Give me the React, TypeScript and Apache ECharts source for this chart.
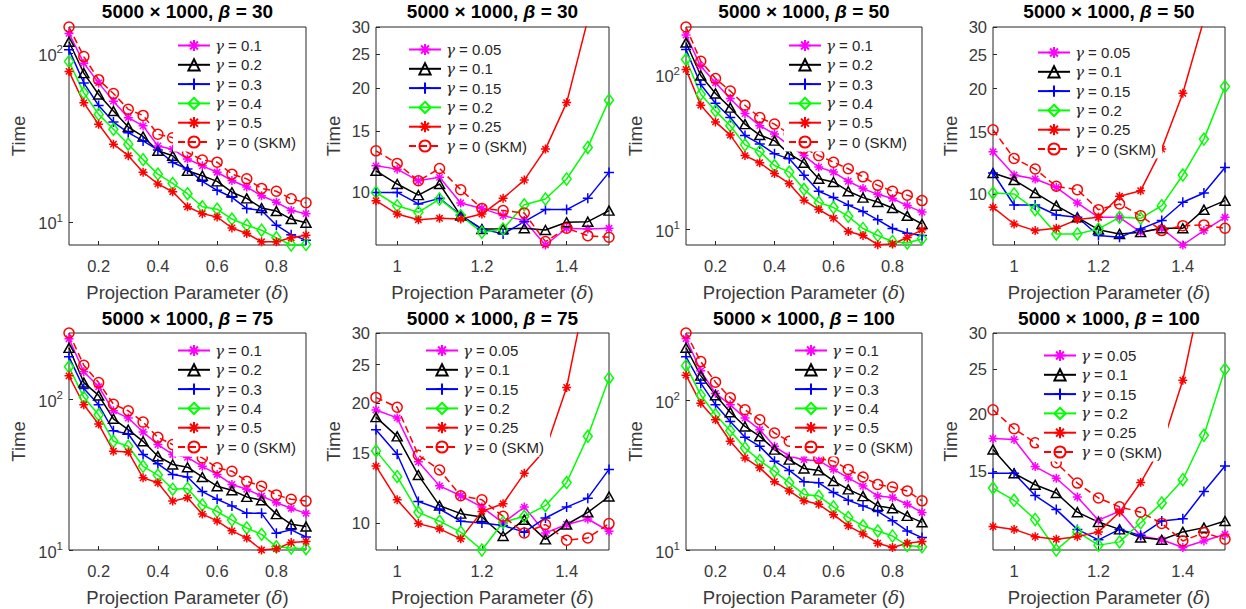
import React, { useEffect, useRef } from 'react';
import * as echarts from 'echarts';

// ---------- categories ----------
const X_LOW = [0.1, 0.15, 0.2, 0.25, 0.3, 0.35, 0.4, 0.45, 0.5, 0.55, 0.6, 0.65, 0.7, 0.75, 0.8, 0.85, 0.9];
const X_HIGH = [0.95, 1.0, 1.05, 1.1, 1.15, 1.2, 1.25, 1.3, 1.35, 1.4, 1.45, 1.5];
const X_TICKS_LOW = [0.2, 0.4, 0.6, 0.8];
const X_TICKS_HIGH = [1, 1.2, 1.4];
const Y_TICKS_LOW = [10, 100];
const Y_TICKS_HIGH = [10, 15, 20, 25, 30];
const LABELS_LOW = ['γ = 0.1', 'γ = 0.2', 'γ = 0.3', 'γ = 0.4', 'γ = 0.5', 'γ = 0 (SKM)'];
const LABELS_HIGH = ['γ = 0.05', 'γ = 0.1', 'γ = 0.15', 'γ = 0.2', 'γ = 0.25', 'γ = 0 (SKM)'];
const BETAS = [30, 30, 50, 50, 75, 75, 100, 100];
const Y_MIN = [7.3, 7.05, 7.9, 7.15, 10, 8.55, 10, 10.1];
const Y_MAX = [143, 30, 203, 30, 275, 30, 281, 30];

// ---------- beta = 30, delta 0.1..0.9 ----------
const b30L_a = [131, 87.3, 66.7, 52.0, 41.5, 37.1, 28.2, 27.0, 23.6, 21.5, 19.7, 17.6, 16.1, 14.3, 13.1, 11.7, 11.2];
const b30L_b = [117, 76.2, 56.9, 45.4, 36.5, 32.1, 26.4, 24.7, 20.1, 18.8, 17.4, 15.0, 13.8, 12.1, 11.6, 10.4, 9.9];
const b30L_c = [105, 66.7, 49.0, 39.1, 33.8, 30.2, 26.7, 22.5, 20.6, 17.4, 15.4, 14.0, 12.0, 11.7, 9.56, 8.41, 7.8];
const b30L_d = [89.3, 58.2, 43.4, 35.4, 28.9, 23.4, 19.2, 16.9, 14.7, 12.3, 11.9, 10.4, 9.56, 8.93, 8.05, 7.3, 7.35];
const b30L_e = [78.0, 50.8, 37.9, 28.9, 24.7, 19.7, 16.8, 15.1, 12.3, 11.2, 10.7, 9.22, 8.54, 7.63, 7.63, 8.05, 8.35];
const b30L_s = [143, 95.5, 69.7, 57.7, 46.5, 42.8, 33.1, 31.6, 25.8, 23.3, 22.6, 19.2, 18.0, 15.8, 15.2, 13.7, 13.0];

// ---------- beta = 30, delta 0.95..1.5 ----------
const b30H_a = [11.93, 11.67, 10.8, 11.05, 9.32, 8.99, 8.57, 8.29, 7.05, 7.88, 7.84, 7.88];
const b30H_b = [11.54, 10.57, 9.82, 10.57, 8.57, 7.84, 7.84, 7.88, 7.79, 8.2, 8.23, 8.86];
const b30H_c = [10.0, 10.0, 9.26, 9.61, 8.6, 7.84, 7.59, 8.23, 8.92, 8.92, 9.61, 11.42];
const b30H_d = [10.0, 9.15, 8.76, 9.57, 8.57, 7.67, 7.84, 9.21, 9.57, 10.93, 13.48, 18.45];
const b30H_e = [9.46, 8.66, 8.34, 8.42, 8.38, 8.66, 9.61, 10.85, 13.33, 18.16, 31.5, 52];
const b30H_s = [13.18, 12.12, 10.8, 11.72, 10.18, 8.99, 8.86, 8.72, 7.21, 7.88, 7.5, 7.42];

// ---------- beta = 50 ----------
const b50L_a = [180, 113, 88.5, 69.9, 55.9, 46.7, 41.2, 34.7, 29.9, 25.2, 23.4, 20.4, 18.3, 16.8, 15.8, 14.2, 12.9];
const b50L_b = [161, 98.6, 75.5, 61.1, 47.8, 40.6, 37.4, 30.7, 26.9, 21.2, 20.2, 17.6, 16.0, 15.0, 13.7, 12.2, 10.8];
const b50L_c = [145, 86.3, 65.2, 52.7, 40.3, 35.6, 30.7, 28.5, 22.3, 17.6, 16.0, 14.3, 13.0, 11.5, 10.1, 9.42, 9.1];
const b50L_d = [125, 74.5, 58.2, 46.7, 35.1, 31.8, 25.8, 23.4, 18.1, 14.9, 13.8, 12.1, 10.1, 9.1, 8.33, 8.13, 8.67];
const b50L_e = [108, 63.3, 49.4, 40.6, 29.9, 26.9, 22.9, 19.7, 15.4, 13.4, 11.8, 9.66, 9.1, 7.94, 8.02, 8.84, 9.9];
const b50L_s = [203, 122, 94.2, 78.2, 63.3, 52.7, 47.8, 41.2, 33.4, 29.9, 27.1, 24.6, 21.8, 19.2, 17.6, 16.6, 15.3];

const b50H_a = [13.2, 11.33, 11.04, 10.45, 9.43, 8.58, 8.58, 7.78, 7.98, 7.15, 7.86, 8.58];
const b50H_b = [11.48, 10.96, 10.07, 9.26, 8.58, 7.91, 7.69, 7.78, 7.98, 7.98, 9.02, 9.57];
const b50H_c = [11.48, 9.3, 9.3, 8.71, 8.58, 7.61, 7.52, 7.95, 8.4, 9.47, 10.07, 11.91];
const b50H_d = [10.07, 10.0, 9.02, 7.69, 7.69, 7.95, 8.58, 8.52, 9.26, 11.33, 14.35, 20.28];
const b50H_e = [9.16, 8.21, 7.86, 7.98, 8.45, 8.58, 9.85, 10.22, 13.44, 19.4, 31.5, 52];
const b50H_s = [15.26, 12.64, 11.79, 10.52, 10.29, 9.02, 9.37, 8.67, 7.86, 8.12, 8.16, 7.98];

// ---------- beta = 75 ----------
const b75L_a = [252, 152, 121, 83.8, 75.0, 60.6, 50.0, 43.0, 41.2, 35.9, 31.7, 27.2, 25.3, 22.8, 20.6, 18.9, 17.5];
const b75L_b = [219, 129, 106, 74.2, 62.8, 52.6, 41.9, 36.9, 35.4, 30.5, 26.5, 24.9, 22.5, 21.4, 17.3, 14.8, 14.3];
const b75L_c = [191, 118, 91.9, 61.8, 58.8, 43.0, 37.3, 31.7, 30.5, 24.4, 21.7, 19.6, 17.5, 17.5, 12.9, 13.6, 12.2];
const b75L_d = [164, 103, 78.8, 52.6, 48.8, 35.9, 31.4, 25.3, 25.6, 19.9, 18.0, 15.8, 14.0, 12.7, 10.5, 10.3, 10.2];
const b75L_e = [143, 91.9, 68.4, 45.2, 44.7, 30.1, 27.9, 21.1, 22.2, 17.3, 15.6, 13.4, 12.0, 10.0, 10.2, 11.2, 11.4];
const b75L_s = [275, 168, 129, 92.7, 83.8, 70.5, 55.9, 50.0, 45.2, 40.8, 35.1, 33.3, 28.6, 26.5, 23.2, 21.7, 21.1];

const b75H_a = [19.22, 18.36, 14.24, 12.39, 11.7, 10.96, 10.0, 10.96, 9.44, 9.91, 10.23, 9.53];
const b75H_b = [18.44, 16.5, 13.19, 11.05, 10.55, 10.35, 9.27, 10.19, 9.09, 9.91, 10.63, 11.65];
const b75H_c = [17.14, 14.88, 11.32, 10.84, 10.1, 10.0, 9.85, 9.48, 10.29, 10.96, 11.54, 13.63];
const b75H_d = [15.17, 13.07, 10.63, 10.1, 9.48, 8.55, 10.04, 10.39, 11.05, 12.63, 16.5, 23.1];
const b75H_e = [13.89, 11.43, 9.96, 9.66, 9.12, 10.69, 11.17, 13.32, 15.29, 21.89, 40, 62];
const b75H_s = [20.67, 19.52, 14.8, 13.58, 11.7, 11.43, 10.39, 9.44, 9.91, 9.05, 9.17, 9.96];

// ---------- beta = 100 ----------
const b100L_a = [258, 157, 111, 93.1, 76.0, 63.5, 49.2, 42.3, 40.1, 39.5, 34.5, 30.3, 26.7, 22.9, 22.4, 20.2, 17.8];
const b100L_b = [224, 146, 108, 83.2, 66.8, 57.4, 46.8, 40.1, 35.0, 34.0, 28.9, 25.4, 22.9, 19.7, 19.0, 16.9, 15.3];
const b100L_c = [195, 130, 93.1, 72.1, 56.5, 49.2, 39.2, 34.0, 28.6, 28.1, 24.2, 21.5, 19.7, 18.1, 15.7, 13.4, 12.1];
const b100L_d = [170, 108, 79.9, 62.6, 48.0, 39.5, 33.6, 28.1, 23.5, 22.9, 19.4, 16.5, 14.5, 13.4, 12.4, 10.7, 10.5];
const b100L_e = [147, 95.5, 74.0, 53.2, 41.2, 35.4, 28.6, 24.8, 21.3, 20.2, 17.2, 14.5, 12.8, 11.1, 10.4, 11.1, 11.4];
const b100L_s = [281, 181, 132, 104, 86.3, 74.0, 60.4, 53.2, 45.6, 40.8, 39.2, 34.5, 30.7, 27.4, 26.3, 24.8, 21.3];

const b100H_a = [17.67, 17.58, 15.35, 14.48, 13.18, 11.73, 12.27, 10.84, 10.63, 10.23, 10.57, 10.93];
const b100H_b = [16.72, 14.84, 14.01, 13.44, 12.21, 11.62, 11.2, 10.75, 10.63, 11.06, 11.3, 11.68];
const b100H_c = [14.84, 14.84, 13.27, 12.37, 11.2, 10.63, 11.2, 10.87, 11.68, 11.81, 13.55, 15.39];
const b100H_d = [13.78, 12.96, 11.77, 10.1, 11.06, 10.35, 10.52, 11.58, 12.79, 14.37, 17.96, 25.0];
const b100H_e = [11.36, 11.2, 10.8, 10.66, 10.8, 11.06, 12.21, 14.17, 17.0, 23.67, 39, 60];
const b100H_s = [20.4, 18.56, 17.29, 15.65, 14.13, 13.11, 12.54, 12.21, 11.54, 10.57, 11.02, 10.66];

const PANEL_DATA = [
  [b30L_a, b30L_b, b30L_c, b30L_d, b30L_e, b30L_s],
  [b30H_a, b30H_b, b30H_c, b30H_d, b30H_e, b30H_s],
  [b50L_a, b50L_b, b50L_c, b50L_d, b50L_e, b50L_s],
  [b50H_a, b50H_b, b50H_c, b50H_d, b50H_e, b50H_s],
  [b75L_a, b75L_b, b75L_c, b75L_d, b75L_e, b75L_s],
  [b75H_a, b75H_b, b75H_c, b75H_d, b75H_e, b75H_s],
  [b100L_a, b100L_b, b100L_c, b100L_d, b100L_e, b100L_s],
  [b100H_a, b100H_b, b100H_c, b100H_d, b100H_e, b100H_s],
];

// ---------- layout & style ----------
const GRID_LEFT = [69, 376, 686, 993];
const GRID_WIDTH = [237, 233, 236, 232];
const GRID_TOP = [27, 333];
const GRID_HEIGHT = [218, 217];
const LEGEND_POS = [[173, 36], [404, 40], [784, 36], [1033, 43], [173, 341], [421, 341], [790, 341], [1039, 346]];
const FONT = "'Liberation Sans', Arial, Helvetica, sans-serif";
const GREEK = "'DejaVu Serif', serif";
const AXIS_COLOR = '#262626';
const TEXT_COLOR = '#3a3a3a';
const TICK_FS = 16.5;
const NAME_FS = 18.5;
const COLORS = ['#FF00FF', '#000000', '#0000FF', '#00FF00', '#FF0000', '#FF0000'];
const STAR = 'path://M5,0L5,10M0,5L10,5M1.5,1.5L8.5,8.5M8.5,1.5L1.5,8.5';
const PLUS = 'path://M5,0L5,10M0,5L10,5';
const TRI = 'path://M5,0L10,8.66L0,8.66Z';
const DIAM = 'path://M5,0L10,7L5,14L0,7Z';
const CIRC = 'path://M0,5A5,5,0,1,1,10,5A5,5,0,1,1,0,5Z';
const SYMBOLS = [STAR, TRI, PLUS, DIAM, STAR, CIRC];
const SYMBOL_SIZES: any[] = [9, [10, 9], 10, [9, 12], 9, 10];
const OPEN_FILL = [false, true, false, true, false, true];

function buildOption() {
  const grid: any[] = [];
  const xAxis: any[] = [];
  const yAxis: any[] = [];
  const series: any[] = [];
  const legend: any[] = [];
  const title: any[] = [];

  for (let p = 0; p < 8; p++) {
    const row = p < 4 ? 0 : 1;
    const col = p % 4;
    const low = p % 2 === 0;
    const xs = low ? X_LOW : X_HIGH;
    const labels = low ? LABELS_LOW : LABELS_HIGH;
    const yMin = Y_MIN[p];
    const yMax = Y_MAX[p];
    const yTicks = (low ? Y_TICKS_LOW : Y_TICKS_HIGH).filter((t) => t >= yMin && t <= yMax).map((t) => Math.log10(t));
    const xTicks = low ? X_TICKS_LOW : X_TICKS_HIGH;

    grid.push({
      left: GRID_LEFT[col], top: GRID_TOP[row], width: GRID_WIDTH[col], height: GRID_HEIGHT[row],
      show: true, borderColor: AXIS_COLOR, borderWidth: 1, backgroundColor: '#fff',
    });

    title.push({
      text: `5000 × 1000, {i|β} = ${BETAS[p]}`,
      left: GRID_LEFT[col] + GRID_WIDTH[col] / 2,
      top: row === 0 ? 2 : 309,
      textAlign: 'center',
      padding: 0,
      textStyle: {
        fontSize: 19, fontWeight: 'bold', color: '#000', fontFamily: FONT,
        rich: { i: { fontSize: 19, fontWeight: 'bold', fontStyle: 'italic', color: '#000', fontFamily: FONT } },
      },
    });

    xAxis.push({
      type: 'value', gridIndex: p, min: xs[0], max: xs[xs.length - 1],
      axisLine: { show: false }, splitLine: { show: false },
      axisTick: { show: true, inside: true, length: 4, customValues: xTicks, lineStyle: { color: AXIS_COLOR } },
      axisLabel: {
        customValues: xTicks, formatter: (v: number) => String(v), margin: 12,
        fontSize: TICK_FS, color: TEXT_COLOR, fontFamily: FONT,
      },
      name: 'Projection Parameter ({d|δ})', nameLocation: 'middle', nameGap: 38,
      nameTextStyle: {
        fontSize: NAME_FS, color: TEXT_COLOR, fontFamily: FONT,
        rich: { d: { fontSize: NAME_FS, fontStyle: 'italic', color: TEXT_COLOR, fontFamily: GREEK } },
      },
    });

    // data axis (log scale)
    yAxis.push({ type: 'log', logBase: 10, gridIndex: p, min: yMin, max: yMax, show: false });
    // label axis (same extent, in log10 space)
    yAxis.push({
      type: 'value', gridIndex: p, position: 'left',
      min: Math.log10(yMin), max: Math.log10(yMax),
      axisLine: { show: false }, splitLine: { show: false },
      axisTick: { show: true, inside: true, length: 4, customValues: yTicks, lineStyle: { color: AXIS_COLOR } },
      axisLabel: {
        customValues: yTicks, margin: 6, fontSize: TICK_FS, color: TEXT_COLOR, fontFamily: FONT,
        formatter: (v: number) => (low ? `{b|10}{s|${Math.round(v)}}` : String(Math.round(Math.pow(10, v)))),
        rich: {
          b: { fontSize: TICK_FS, color: TEXT_COLOR, fontFamily: FONT, lineHeight: 20, verticalAlign: 'bottom' },
          s: { fontSize: 11.5, color: TEXT_COLOR, fontFamily: FONT, verticalAlign: 'top' },
        },
      },
      name: 'Time', nameLocation: 'middle', nameGap: low ? 41 : 33,
      nameTextStyle: { fontSize: NAME_FS, color: TEXT_COLOR, fontFamily: FONT },
    });

    const names: string[] = [];
    PANEL_DATA[p].forEach((vals, s) => {
      const name = `${p}|${labels[s]}`;
      names.push(name);
      series.push({
        type: 'line', name, xAxisIndex: p, yAxisIndex: 2 * p,
        data: xs.map((x, i) => [x, vals[i]]),
        symbol: SYMBOLS[s], symbolSize: SYMBOL_SIZES[s], showSymbol: true,
        clip: true, silent: true,
        lineStyle: { color: COLORS[s], width: 1.5, type: s === 5 ? [7, 4] : 'solid' },
        itemStyle: {
          color: OPEN_FILL[s] ? 'rgba(255,255,255,0)' : COLORS[s],
          borderColor: COLORS[s], borderWidth: 1.5,
        },
        emphasis: { disabled: true },
      });
    });

    legend.push({
      orient: 'vertical', left: LEGEND_POS[p][0], top: LEGEND_POS[p][1],
      itemWidth: 32, itemHeight: 14, itemGap: 4.3,
      padding: [2, 6, 2, 4], backgroundColor: '#fff', selectedMode: false,
      data: names,
      formatter: (n: string) => n.split('|')[1].replace('γ', '{g|γ}'),
      textStyle: {
        fontSize: 15, color: '#262626', fontFamily: FONT,
        rich: { g: { fontSize: 15, color: '#262626', fontFamily: GREEK, fontStyle: 'italic' } },
      },
    });
  }

  return { animation: false, backgroundColor: '#fff', grid, xAxis, yAxis, series, legend, title };
}

export default function App() {
  const ref = useRef<HTMLDivElement>(null);
  useEffect(() => {
    const chart = echarts.init(ref.current as HTMLDivElement, null, { renderer: 'svg' });
    chart.setOption(buildOption() as any);
    return () => chart.dispose();
  }, []);
  return (
    <div
      ref={ref}
      style={{ position: 'absolute', left: 0, top: 0, width: 1246, height: 609, background: '#fff' }}
    />
  );
}
